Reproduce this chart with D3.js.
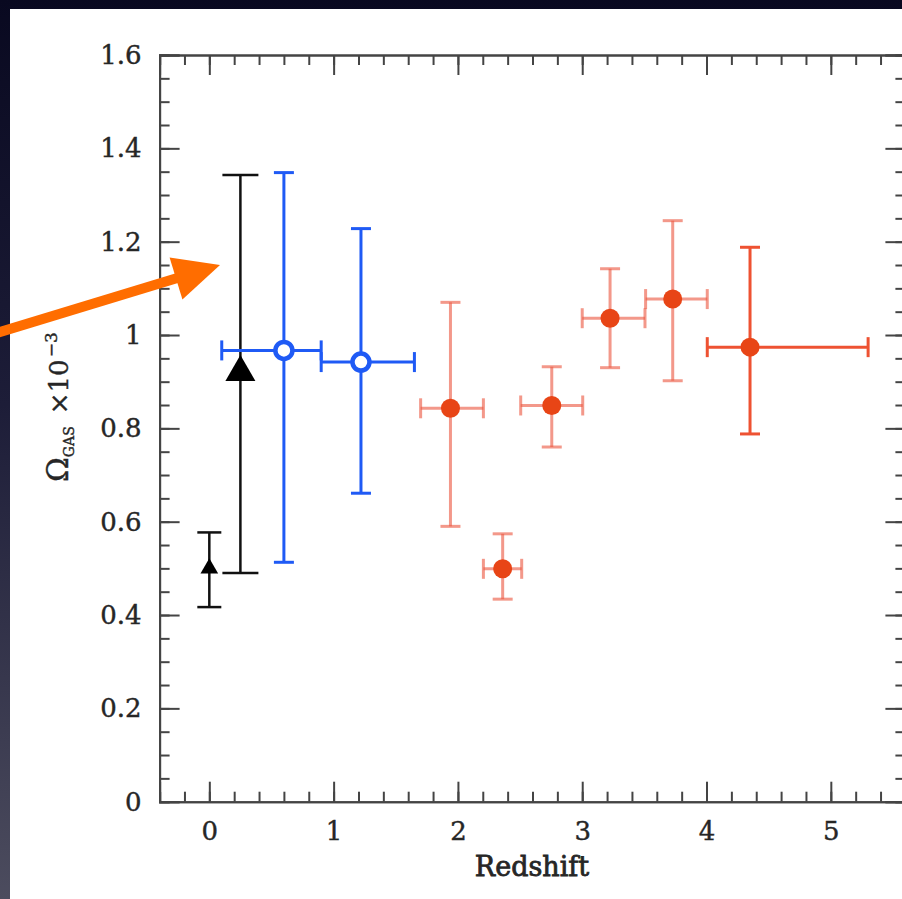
<!DOCTYPE html>
<html><head><meta charset="utf-8">
<script src="https://cdn.jsdelivr.net/npm/d3@7"></script>
<style>
html,body{margin:0;padding:0;background:#0b0b22;}
svg{display:block;}
</style></head>
<body>
<svg id="chart" width="902" height="899"></svg>
<script>
// ---- data ----
const xMajorTicks = [0, 1, 2, 3, 4, 5];
const yMajorTicks = [0, 0.2, 0.4, 0.6, 0.8, 1, 1.2, 1.4, 1.6];

// black triangles
const blackZ   = [0, 0.25];
const blackVal = [0.50, 0.92];
const blackLo  = [0.417, 0.490];
const blackHi  = [0.577, 1.343];
const blackSize = ["small", "large"];

// blue open circles
const blueZ    = [0.60, 1.22];
const blueVal  = [0.967, 0.942];
const blueZLo  = [0.10, 0.90];
const blueZHi  = [0.90, 1.65];
const blueLo   = [0.513, 0.661];
const blueHi   = [1.348, 1.228];

// red filled circles
const redZ     = [1.94, 2.36, 2.755, 3.224, 3.728, 4.35];
const redVal   = [0.843, 0.499, 0.849, 1.036, 1.077, 0.974];
const redZLo   = [1.70, 2.205, 2.505, 3.00, 3.51, 4.006];
const redZHi   = [2.205, 2.513, 3.004, 3.505, 4.006, 5.30];
const redLo    = [0.590, 0.434, 0.760, 0.930, 0.902, 0.788];
const redHi    = [1.070, 0.574, 0.932, 1.142, 1.245, 1.188];
const redFaint = [true, true, true, true, true, false];

// annotation arrow (data coords)
const arrowFrom = [-1.70, 1.005];
const arrowTo   = [0.086, 1.150];

// ---- drawing ----
const svg = d3.select("#chart");
const W = 902, H = 899;

const defs = svg.append("defs");
const g1 = defs.append("linearGradient").attr("id","bg").attr("x1",0).attr("y1",0).attr("x2",0).attr("y2",1);
g1.append("stop").attr("offset","0%").attr("stop-color","#090920");
g1.append("stop").attr("offset","45%").attr("stop-color","#1d1d38");
g1.append("stop").attr("offset","100%").attr("stop-color","#4c4c5e");
svg.append("rect").attr("width",W).attr("height",H).attr("fill","url(#bg)");
svg.append("rect").attr("x",10).attr("y",9).attr("width",W-10).attr("height",H-9).attr("fill","#ffffff");

const x = d3.scaleLinear().domain([-0.4, 5.6]).range([159.6, 905.4]);
const y = d3.scaleLinear().domain([0, 1.6]).range([801.7, 55]);

const FONT = "'DejaVu Serif', 'Liberation Serif', serif";
const TXT = "#262626";
const fmt = d => String(+d.toFixed(1));
const xMinor = d3.range(-0.4, 5.61, 0.2).map(v => +v.toFixed(2));
const yMinor = d3.range(0, 1.601, 0.05).map(v => +v.toFixed(2));

const axisColor = "#444";
function styleAxis(g, labels) {
  g.select(".domain").attr("stroke", axisColor).attr("stroke-width", 2);
  g.selectAll(".tick line").attr("stroke", axisColor).attr("stroke-width", 2);
  g.selectAll(".tick text").attr("fill", TXT).attr("stroke", TXT).attr("stroke-width", 0.4)
    .style("font-family", FONT).style("font-size", "26px");
  if (!labels) g.selectAll(".tick text").remove();
}

// minor ticks
svg.append("g").attr("transform",`translate(0,${y(0)})`)
  .call(d3.axisBottom(x).tickValues(xMinor).tickSize(-10).tickFormat(""))
  .call(g => styleAxis(g, false));
svg.append("g").attr("transform",`translate(0,${y(1.6)})`)
  .call(d3.axisTop(x).tickValues(xMinor).tickSize(-10).tickFormat(""))
  .call(g => styleAxis(g, false));
svg.append("g").attr("transform",`translate(${x(-0.4)},0)`)
  .call(d3.axisLeft(y).tickValues(yMinor).tickSize(-10).tickFormat(""))
  .call(g => styleAxis(g, false));
svg.append("g").attr("transform",`translate(${x(5.6)},0)`)
  .call(d3.axisRight(y).tickValues(yMinor).tickSize(-10).tickFormat(""))
  .call(g => styleAxis(g, false));

// major ticks
svg.append("g").attr("transform",`translate(0,${y(0)})`)
  .call(d3.axisBottom(x).tickValues(xMajorTicks).tickSize(-20).tickPadding(20).tickFormat(fmt))
  .call(g => styleAxis(g, true));
svg.append("g").attr("transform",`translate(0,${y(1.6)})`)
  .call(d3.axisTop(x).tickValues(xMajorTicks).tickSize(-20).tickFormat(""))
  .call(g => styleAxis(g, false));
svg.append("g").attr("transform",`translate(${x(-0.4)},0)`)
  .call(d3.axisLeft(y).tickValues(yMajorTicks).tickSize(-20).tickPadding(18).tickFormat(fmt))
  .call(g => styleAxis(g, true));
svg.append("g").attr("transform",`translate(${x(5.6)},0)`)
  .call(d3.axisRight(y).tickValues(yMajorTicks).tickSize(-20).tickFormat(""))
  .call(g => styleAxis(g, false));

// axis titles
svg.append("text").attr("x", 532).attr("y", 876).attr("text-anchor","middle")
  .attr("fill",TXT).attr("stroke",TXT).attr("stroke-width",0.8)
  .style("font-family",FONT).style("font-size","27px")
  .text("Redshift");

const yl = svg.append("text").attr("transform","translate(68,482) rotate(-90)")
  .attr("fill",TXT).attr("stroke",TXT).attr("stroke-width",0.4)
  .style("font-family",FONT).style("font-size","26px");
yl.append("tspan").style("font-size","30px").text("Ω");
yl.append("tspan").style("font-size","14px").attr("dy",6).text("GAS");
yl.append("tspan").attr("dy",-6).attr("dx",12).text("×10");
yl.append("tspan").style("font-size","17px").attr("dy",-11).attr("dx",2).text("−3");

// error bar helper
function vbar(g, xv, lo, hi, cap, color, sw) {
  g.append("line").attr("x1",x(xv)).attr("x2",x(xv)).attr("y1",y(lo)).attr("y2",y(hi)).attr("stroke",color).attr("stroke-width",sw);
  [lo,hi].forEach(v => g.append("line").attr("x1",x(xv)-cap).attr("x2",x(xv)+cap).attr("y1",y(v)).attr("y2",y(v)).attr("stroke",color).attr("stroke-width",sw));
}
function hbar(g, yv, lo, hi, cap, color, sw) {
  g.append("line").attr("x1",x(lo)).attr("x2",x(hi)).attr("y1",y(yv)).attr("y2",y(yv)).attr("stroke",color).attr("stroke-width",sw);
  [lo,hi].forEach(v => g.append("line").attr("x1",x(v)).attr("x2",x(v)).attr("y1",y(yv)-cap).attr("y2",y(yv)+cap).attr("stroke",color).attr("stroke-width",sw));
}

const marks = svg.append("g");

// black
blackZ.forEach((z,i) => {
  const cap = blackSize[i] === "large" ? 18 : 12;
  vbar(marks, z, blackLo[i], blackHi[i], cap, "#111", 2.5);
  const size = blackSize[i] === "large" ? 390 : 135;
  marks.append("path").attr("d", d3.symbol(d3.symbolTriangle, size)())
    .attr("transform",`translate(${x(z)},${y(blackVal[i])})`).attr("fill","#000");
});

// blue
const BLUE = "#1f5af5";
blueZ.forEach((z,i) => {
  vbar(marks, z, blueLo[i], blueHi[i], 10, BLUE, 3);
  hbar(marks, blueVal[i], blueZLo[i], blueZHi[i], 10, BLUE, 3);
  marks.append("circle").attr("cx",x(z)).attr("cy",y(blueVal[i])).attr("r",8.5)
    .attr("fill","#fff").attr("stroke",BLUE).attr("stroke-width",4.5);
});

// red
redZ.forEach((z,i) => {
  const col = redFaint[i] ? "rgba(236,88,66,0.62)" : "#ee5232";
  vbar(marks, z, redLo[i], redHi[i], 10, col, 3);
  hbar(marks, redVal[i], redZLo[i], redZHi[i], 10, col, 3);
  marks.append("circle").attr("cx",x(z)).attr("cy",y(redVal[i])).attr("r",9.5).attr("fill","#e84516");
});

// arrow
const ax0 = x(arrowFrom[0]), ay0 = y(arrowFrom[1]), ax1 = x(arrowTo[0]), ay1 = y(arrowTo[1]);
const ang = Math.atan2(ay1 - ay0, ax1 - ax0);
const headLen = 46, headHalf = 22;
const bx = ax1 - headLen*Math.cos(ang), by = ay1 - headLen*Math.sin(ang);
const ORANGE = "#ff6d00";
svg.append("line").attr("x1",ax0).attr("y1",ay0).attr("x2",bx + 4*Math.cos(ang)).attr("y2",by + 4*Math.sin(ang))
  .attr("stroke",ORANGE).attr("stroke-width",10);
const px = -Math.sin(ang), py = Math.cos(ang);
svg.append("path").attr("d", d3.line()([[ax1,ay1],[bx+headHalf*px,by+headHalf*py],[bx-headHalf*px,by-headHalf*py]]) + "Z")
  .attr("fill",ORANGE);
</script>
</body></html>
